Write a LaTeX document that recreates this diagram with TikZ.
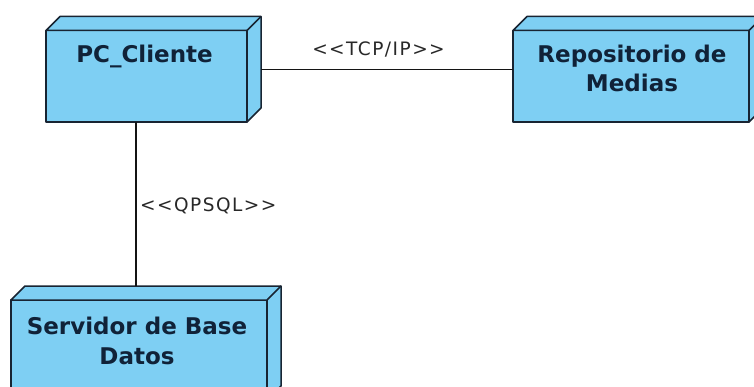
\documentclass[tikz,border=0pt]{standalone}
\usepackage{fontspec}
\setmainfont{DejaVu Sans}
\newfontfamily\stereofont{DejaVu Sans}[LetterSpace=8]
\usetikzlibrary{calc}
\definecolor{nodefill}{RGB}{126,207,243}
\definecolor{edgecol}{RGB}{24,36,50}
\definecolor{namecol}{RGB}{16,34,56}
\definecolor{linkcol}{RGB}{20,20,20}
\definecolor{stereocol}{RGB}{40,40,40}

% depth of the 3D node boxes
\newcommand\depthx{14}
\newcommand\depthy{14}
% top and right faces of a deployment node
\newcommand\nodefaces[1]{%
  \filldraw[face] (#1.north west) -- ++(\depthx,-\depthy)
    -- ($(#1.north east)+(\depthx,-\depthy)$)
    -- ($(#1.south east)+(\depthx,-\depthy)$)
    -- (#1.south east) -- (#1.north east) -- cycle;
  \draw[face] (#1.north east) -- ++(\depthx,-\depthy);
}

\begin{document}
\begin{tikzpicture}[x=1pt,y=-1pt,
  nodebox/.style={draw=edgecol, fill=nodefill, line width=1.5pt,
    inner sep=0pt, outer sep=0pt, anchor=north west, line join=round},
  face/.style={draw=edgecol, fill=nodefill, line width=1.5pt, line join=round},
  nodename/.style={font=\fontsize{23}{29.5}\selectfont\bfseries, text=namecol,
    align=center, inner sep=0pt, anchor=base},
  stereo/.style={font=\fontsize{18.5}{22}\stereofont, text=stereocol,
    inner sep=0pt},
  link/.style={draw=linkcol, line width=1.3pt}]

\useasboundingbox (0,0) rectangle (754,387);
\clip (0,0) rectangle (754,387);
\fill[white] (0,0) rectangle (754,387);

% front faces of the three nodes
\node[nodebox, minimum width=201pt, minimum height=91.5pt] (pc)  at (46,30.5) {};
\node[nodebox, minimum width=236pt, minimum height=91.5pt] (rep) at (513,30.5) {};
\node[nodebox, minimum width=256pt, minimum height=100pt]  (srv) at (11,300) {};

\nodefaces{pc}
\nodefaces{rep}
\nodefaces{srv}

% node names (base anchor sits on the last line)
\node[nodename] (pcname)  at ($(pc.north)+(-2,31.8)$)  {PC\_Cliente};
\node[nodename] (repname) at ($(rep.north)+(1,61.5)$)  {Repositorio de\\Medias};
\node[nodename] (srvname) at ($(srv.north)+(-2,64)$)   {Servidor de Base\\Datos};

% connector end points
\coordinate (pcright)  at ($(pc.east)+(\depthx,-6.5)$);
\coordinate (pcbottom) at ($(pc.south)+(-10.5,0)$);
\coordinate (srvtop)   at ($(srv.north)+(0,-\depthy)$);

\draw[link] (pcright) -- (rep.west |- pcright);
\draw[link] (pcbottom) -- (pcbottom |- srvtop);

% stereotypes
\node[stereo, anchor=base] (tcp) at (378.5,55.7) {<<TCP/IP>>};
\node[stereo, anchor=base west] (qpsql) at (140,211.7) {<<QPSQL>>};
\end{tikzpicture}
\end{document}
